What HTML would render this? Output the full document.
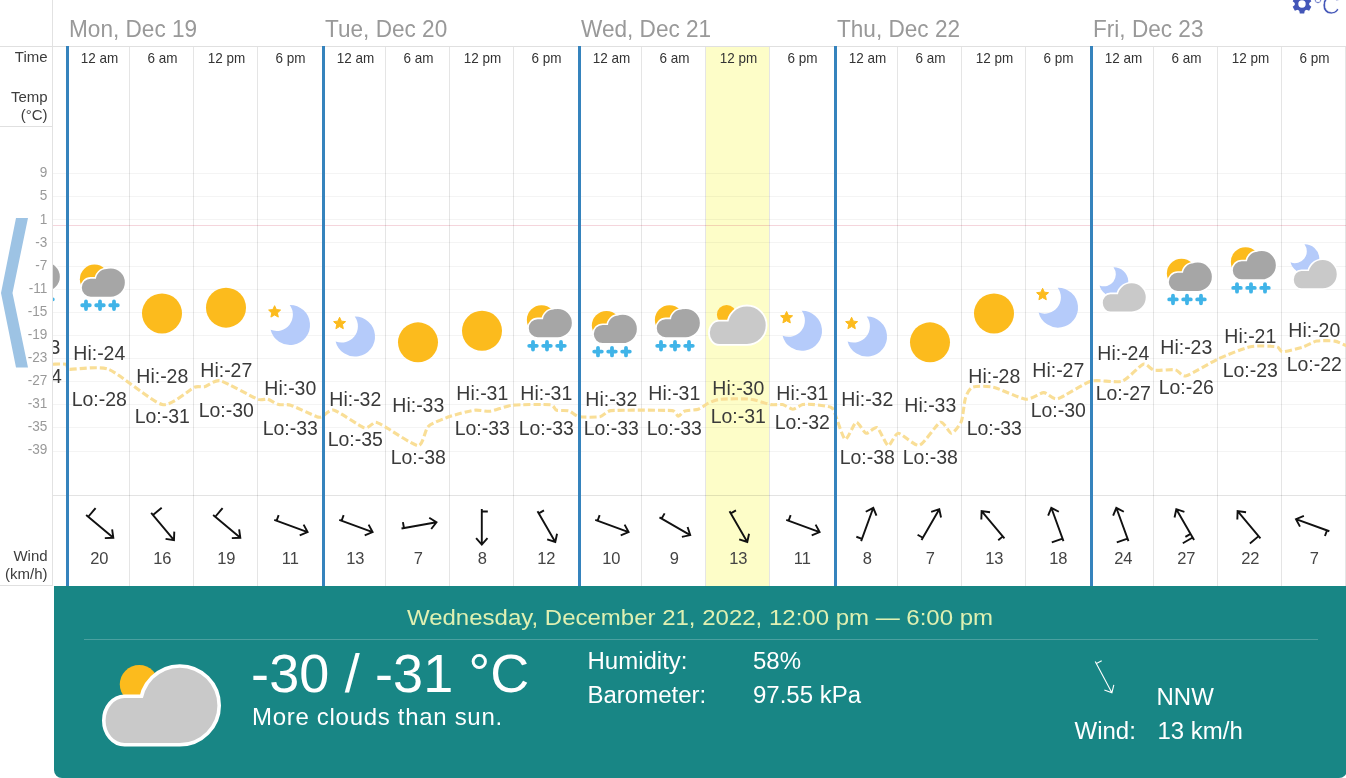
<!DOCTYPE html>
<html lang="en">
<head>
<meta charset="utf-8">
<title>Weather forecast</title>
<style>
html,body{margin:0;padding:0;background:#fff;}
body{width:1346px;height:778px;overflow:hidden;position:relative;font-family:"Liberation Sans",sans-serif;color:#333;}
.abs{position:absolute;}
.vline{position:absolute;left:52px;top:0;width:1px;height:586px;background:#e2e2e2;}
.hline{position:absolute;left:0;height:1px;background:#e0e0e0;}
.lbl{position:absolute;left:0;width:47.6px;text-align:right;font-size:15px;line-height:18px;height:18px;color:#3d3d3d;transform:scaleY(1.03);transform-origin:0 14px;white-space:nowrap;}
.yl{position:absolute;left:0;width:47.3px;text-align:right;font-size:13.6px;line-height:18px;height:18px;color:#999;transform:scaleY(1.05);transform-origin:0 13.5px;}
.day{position:absolute;top:16px;font-size:22.6px;line-height:28px;height:28px;color:#999;white-space:nowrap;transform:scaleY(1.035);transform-origin:0 22px;}
.chart{position:absolute;left:53px;top:46px;overflow:hidden;}
.chart text{font-family:"Liberation Sans",sans-serif;}
.hilo{font-size:19.5px;fill:#3a3a3a;}
.tm{font-size:13.5px;fill:#333;}
.ws{font-size:16.5px;fill:#444;}
.chev{position:absolute;left:0;top:210px;}
.panel{position:absolute;left:54px;top:586px;width:1293px;height:192px;background:#188685;border-radius:0 0 8px 8px;color:#fff;}
.ptitle{position:absolute;left:0;top:16px;width:1292px;height:30px;text-align:center;font-size:24px;line-height:30px;color:#dff0b2;white-space:nowrap;transform:scaleY(0.945);transform-origin:0 23.5px;}
.pdiv{position:absolute;left:30px;top:53px;width:1234px;height:1px;background:rgba(255,255,255,0.22);}
.bigicon{position:absolute;left:44px;top:55px;}
.ptemp{position:absolute;left:197px;top:55px;height:64px;font-size:54px;line-height:64px;letter-spacing:0.15px;white-space:nowrap;}
.pdesc{position:absolute;left:198px;top:116px;height:30px;font-size:24px;line-height:30px;letter-spacing:0.7px;white-space:nowrap;}
.pt{position:absolute;height:30px;font-size:24px;line-height:30px;white-space:nowrap;transform:scaleY(0.97);transform-origin:0 23.5px;}
.parrow{position:absolute;left:1019px;top:59.7px;}
.gear{position:absolute;left:1291.3px;top:-6.6px;}
.unit{position:absolute;left:1313px;top:-8.6px;font-size:25px;line-height:28px;color:#4356b8;-webkit-text-stroke:0.55px #fff;white-space:nowrap;}
.unit span{margin-left:-1.2px;}
</style>
</head>
<body>
<div class="vline"></div>
<div class="hline" style="top:46px;width:1346px"></div>
<div class="hline" style="top:126px;width:52px"></div>
<div class="hline" style="top:585px;width:52px"></div>

<div class="lbl" style="top:48px">Time</div>
<div class="lbl" style="top:88px">Temp</div>
<div class="lbl" style="top:106px">(°C)</div>
<div class="lbl" style="top:547px">Wind</div>
<div class="lbl" style="top:565px">(km/h)</div>
<div class="yl" style="top:164.4px">9</div>
<div class="yl" style="top:187.47px">5</div>
<div class="yl" style="top:210.54px">1</div>
<div class="yl" style="top:233.61px">-3</div>
<div class="yl" style="top:256.68px">-7</div>
<div class="yl" style="top:279.75px">-11</div>
<div class="yl" style="top:302.82px">-15</div>
<div class="yl" style="top:325.89px">-19</div>
<div class="yl" style="top:348.96px">-23</div>
<div class="yl" style="top:372.03px">-27</div>
<div class="yl" style="top:395.1px">-31</div>
<div class="yl" style="top:418.17px">-35</div>
<div class="yl" style="top:441.24px">-39</div>
<div class="day" style="left:69px">Mon, Dec 19</div>
<div class="day" style="left:325px">Tue, Dec 20</div>
<div class="day" style="left:581px">Wed, Dec 21</div>
<div class="day" style="left:837px">Thu, Dec 22</div>
<div class="day" style="left:1093px">Fri, Dec 23</div>

<svg class="chart" width="1293" height="540" viewBox="53 46 1293 540">
<rect x="706" y="47" width="63" height="539" fill="#fdfdc8"/>
<path d="M53 173.5H1346M53 196.5H1346M53 219.5H1346M53 242.5H1346M53 266.5H1346M53 289.5H1346M53 312.5H1346M53 335.5H1346M53 358.5H1346M53 381.5H1346M53 404.5H1346M53 427.5H1346M53 451.5H1346" stroke="#000" stroke-opacity="0.045" stroke-width="1" fill="none"/>
<path d="M53 225.5H1346" stroke="#d04060" stroke-opacity="0.22" stroke-width="1"/>
<path d="M53 495.5H1346" stroke="#000" stroke-opacity="0.11" stroke-width="1"/>
<path d="M129.5 47V586M193.5 47V586M257.5 47V586M385.5 47V586M449.5 47V586M513.5 47V586M641.5 47V586M705.5 47V586M769.5 47V586M897.5 47V586M961.5 47V586M1025.5 47V586M1153.5 47V586M1217.5 47V586M1281.5 47V586M1345.5 47V586" stroke="#000" stroke-opacity="0.1" stroke-width="1" fill="none"/>
<path d="M53 364.2C54.39 364.2 64.29 363.66 66 364.2C67.71 364.74 66.65 369.02 69 369.3C73.53 369.84 98.55 365.53 108.5 369.3C118.45 373.07 153.14 402.69 162.3 404.6C171.46 406.51 189.9 389.1 194.4 387.2C198.13 385.63 201.72 387.48 204.5 386.8C207.28 386.12 214.84 379.48 220.5 380.8C226.16 382.12 252.57 397.24 257.6 399.2C261.36 400.67 265.45 398.62 267.7 399.2C269.95 399.78 276.25 403.96 278.7 404.6C281.15 405.24 286.64 403.91 290.7 405.2C294.76 406.49 313.46 415.47 316.8 416.7C318.75 417.42 320.15 417.39 322 416.7C323.85 416.01 329.6 409.03 334.1 410.2C338.6 411.37 359.82 426.41 364.2 427.7C368.58 428.99 372.96 422.39 375.2 422.3C377.44 422.21 381.33 424.8 385.2 426.9C389.8 429.4 413.69 445.76 418.3 445.7C422.91 445.64 424.98 429.44 428.4 426.3C431.82 423.16 445.48 418.02 450.4 416.3C455.32 414.58 470.22 410.74 474.5 410.2C478.78 409.66 486.44 411.73 490.5 411.2C494.56 410.67 506.18 405.88 512.6 405.2C519.02 404.52 546 404.27 550.7 404.8C553.91 405.16 554.77 409.56 556.7 410.2C558.63 410.84 566.42 410.11 568.8 410.8C571.18 411.49 575.67 416.07 579 416.7C582.33 417.33 596.58 417.35 600 416.7C603.42 416.05 606.05 411.03 611.1 410.6C618.81 409.95 665.13 409.99 672.3 410.6C675.6 410.88 677.02 416.24 678.3 416.3C679.58 416.36 682.16 411.96 684.3 411.2C686.44 410.44 695.83 410.05 698.4 409.2C700.97 408.35 706.04 404.27 708.4 403.2C710.76 402.13 716.01 399.63 720.5 399.2C724.99 398.77 745.16 398.62 750.5 399.2C755.84 399.78 767.18 404.02 770.6 404.6C774.02 405.18 780.24 404.11 782.6 404.6C784.96 405.09 790.56 409.2 792.7 409.2C794.84 409.2 800.35 405.09 802.7 404.6C805.05 404.11 811.7 404.32 814.7 404.6C817.7 404.88 828.74 406.52 830.8 407.2C832.69 407.83 833.19 409.18 834 411C835.53 414.42 842.74 438.09 845.1 439.3C847.46 440.51 853.86 422.94 856.1 422.3C858.34 421.66 863.85 432.72 866.1 433.3C868.35 433.88 874.84 426.38 877.2 427.7C879.56 429.02 885.96 445.1 888.2 445.7C890.44 446.3 894.88 433.34 898.2 433.3C901.52 433.26 914.81 446.47 919.3 445.3C923.79 444.13 936.88 423.58 940.3 422.3C943.72 421.02 949.15 433.41 951.4 433.3C953.65 433.19 959.91 425.04 961.4 421.3C962.89 417.56 964.23 401.84 965.4 398.2C966.57 394.56 969.4 388.37 972.4 387.2C975.4 386.03 987.83 385.92 993.5 387.2C999.17 388.48 1020.25 398.62 1025.6 399.2C1030.95 399.78 1040.28 392.64 1043.7 392.6C1047.12 392.56 1052.65 400.02 1057.7 398.8C1062.75 397.58 1084.13 383.08 1091 381.2C1097.87 379.32 1116.53 383.01 1122.1 381.2C1127.67 379.39 1139.78 365.37 1143.2 364.2C1146.62 363.03 1150.78 369.6 1154.2 370.2C1157.62 370.8 1171.88 369.2 1175.3 369.8C1178.72 370.4 1181.7 376.97 1186.3 375.8C1190.9 374.63 1211.55 361.9 1218.4 358.8C1225.25 355.7 1244.29 347.99 1250.5 346.7C1256.71 345.41 1273.18 346.16 1276.6 346.7C1279.71 347.19 1279.82 351.76 1282.6 351.8C1285.38 351.84 1299.06 348.24 1302.7 347.1C1306.34 345.96 1313.28 341.74 1316.7 341.1C1320.12 340.46 1331.46 340.52 1334.8 341.1C1338.14 341.68 1346.59 345.92 1348 346.5" fill="none" stroke="#f9de96" stroke-width="3.1" stroke-dasharray="7 3" stroke-linejoin="round"/>
<g transform="translate(34 284.47)"><circle cx="-4.5" cy="-11" r="14.65" fill="#fcbb1d"/><path d="M-2.45 -7.7a14.15 14.15 0 1 1 28.3 0a14.15 14.15 0 1 1 -28.3 0ZM-3.1 -10.2a11 11 0 1 1 22 0a11 11 0 1 1 -22 0ZM-8.3 -11.6H11.7V6.45H-8.3A8.9 9.03 0 0 1 -17.2 -2.58A8.9 9.03 0 0 1 -8.3 -11.6Z" fill="#a6a6a6" stroke="#fff" stroke-width="3.2" stroke-linejoin="round" paint-order="stroke"/><path d="M-16.8 15h7.6M-13 11.2v7.6" stroke="#40b4e8" stroke-width="3.8" stroke-linecap="round" fill="none"/><path d="M-2.8 15h7.6M1 11.2v7.6" stroke="#40b4e8" stroke-width="3.8" stroke-linecap="round" fill="none"/><path d="M11.2 15h7.6M15 11.2v7.6" stroke="#40b4e8" stroke-width="3.8" stroke-linecap="round" fill="none"/></g>
<g transform="translate(99 290.26)"><circle cx="-4.5" cy="-11" r="14.65" fill="#fcbb1d"/><path d="M-2.45 -7.7a14.15 14.15 0 1 1 28.3 0a14.15 14.15 0 1 1 -28.3 0ZM-3.1 -10.2a11 11 0 1 1 22 0a11 11 0 1 1 -22 0ZM-8.3 -11.6H11.7V6.45H-8.3A8.9 9.03 0 0 1 -17.2 -2.58A8.9 9.03 0 0 1 -8.3 -11.6Z" fill="#a6a6a6" stroke="#fff" stroke-width="3.2" stroke-linejoin="round" paint-order="stroke"/><path d="M-16.8 15h7.6M-13 11.2v7.6" stroke="#40b4e8" stroke-width="3.8" stroke-linecap="round" fill="none"/><path d="M-2.8 15h7.6M1 11.2v7.6" stroke="#40b4e8" stroke-width="3.8" stroke-linecap="round" fill="none"/><path d="M11.2 15h7.6M15 11.2v7.6" stroke="#40b4e8" stroke-width="3.8" stroke-linecap="round" fill="none"/></g>
<g transform="translate(162 313.42)"><circle r="20" fill="#fcbb1d"/></g>
<g transform="translate(226 307.63)"><circle r="20" fill="#fcbb1d"/></g>
<g transform="translate(290 325)"><path d="M-0.3 -20A20 20 0 1 1 -19.4 4.85A16.3 16.3 0 0 0 -0.3 -20Z" fill="#b5cbfa"/><polygon points="-15.4,-19.3 -13.64,-15.43 -9.41,-14.95 -12.55,-12.07 -11.7,-7.9 -15.4,-10 -19.1,-7.9 -18.25,-12.07 -21.39,-14.95 -17.16,-15.43" fill="#fcbb1d" stroke="#fcbb1d" stroke-width="1" stroke-linejoin="round"/></g>
<g transform="translate(355 336.58)"><path d="M-0.3 -20A20 20 0 1 1 -19.4 4.85A16.3 16.3 0 0 0 -0.3 -20Z" fill="#b5cbfa"/><polygon points="-15.4,-19.3 -13.64,-15.43 -9.41,-14.95 -12.55,-12.07 -11.7,-7.9 -15.4,-10 -19.1,-7.9 -18.25,-12.07 -21.39,-14.95 -17.16,-15.43" fill="#fcbb1d" stroke="#fcbb1d" stroke-width="1" stroke-linejoin="round"/></g>
<g transform="translate(418 342.37)"><circle r="20" fill="#fcbb1d"/></g>
<g transform="translate(482 330.79)"><circle r="20" fill="#fcbb1d"/></g>
<g transform="translate(546 330.79)"><circle cx="-4.5" cy="-11" r="14.65" fill="#fcbb1d"/><path d="M-2.45 -7.7a14.15 14.15 0 1 1 28.3 0a14.15 14.15 0 1 1 -28.3 0ZM-3.1 -10.2a11 11 0 1 1 22 0a11 11 0 1 1 -22 0ZM-8.3 -11.6H11.7V6.45H-8.3A8.9 9.03 0 0 1 -17.2 -2.58A8.9 9.03 0 0 1 -8.3 -11.6Z" fill="#a6a6a6" stroke="#fff" stroke-width="3.2" stroke-linejoin="round" paint-order="stroke"/><path d="M-16.8 15h7.6M-13 11.2v7.6" stroke="#40b4e8" stroke-width="3.8" stroke-linecap="round" fill="none"/><path d="M-2.8 15h7.6M1 11.2v7.6" stroke="#40b4e8" stroke-width="3.8" stroke-linecap="round" fill="none"/><path d="M11.2 15h7.6M15 11.2v7.6" stroke="#40b4e8" stroke-width="3.8" stroke-linecap="round" fill="none"/></g>
<g transform="translate(611 336.58)"><circle cx="-4.5" cy="-11" r="14.65" fill="#fcbb1d"/><path d="M-2.45 -7.7a14.15 14.15 0 1 1 28.3 0a14.15 14.15 0 1 1 -28.3 0ZM-3.1 -10.2a11 11 0 1 1 22 0a11 11 0 1 1 -22 0ZM-8.3 -11.6H11.7V6.45H-8.3A8.9 9.03 0 0 1 -17.2 -2.58A8.9 9.03 0 0 1 -8.3 -11.6Z" fill="#a6a6a6" stroke="#fff" stroke-width="3.2" stroke-linejoin="round" paint-order="stroke"/><path d="M-16.8 15h7.6M-13 11.2v7.6" stroke="#40b4e8" stroke-width="3.8" stroke-linecap="round" fill="none"/><path d="M-2.8 15h7.6M1 11.2v7.6" stroke="#40b4e8" stroke-width="3.8" stroke-linecap="round" fill="none"/><path d="M11.2 15h7.6M15 11.2v7.6" stroke="#40b4e8" stroke-width="3.8" stroke-linecap="round" fill="none"/></g>
<g transform="translate(674 330.79)"><circle cx="-4.5" cy="-11" r="14.65" fill="#fcbb1d"/><path d="M-2.45 -7.7a14.15 14.15 0 1 1 28.3 0a14.15 14.15 0 1 1 -28.3 0ZM-3.1 -10.2a11 11 0 1 1 22 0a11 11 0 1 1 -22 0ZM-8.3 -11.6H11.7V6.45H-8.3A8.9 9.03 0 0 1 -17.2 -2.58A8.9 9.03 0 0 1 -8.3 -11.6Z" fill="#a6a6a6" stroke="#fff" stroke-width="3.2" stroke-linejoin="round" paint-order="stroke"/><path d="M-16.8 15h7.6M-13 11.2v7.6" stroke="#40b4e8" stroke-width="3.8" stroke-linecap="round" fill="none"/><path d="M-2.8 15h7.6M1 11.2v7.6" stroke="#40b4e8" stroke-width="3.8" stroke-linecap="round" fill="none"/><path d="M11.2 15h7.6M15 11.2v7.6" stroke="#40b4e8" stroke-width="3.8" stroke-linecap="round" fill="none"/></g>
<g transform="translate(738 325)"><circle cx="-11.4" cy="-10.3" r="9.7" fill="#fcbb1d"/><path d="M-9.9 0.2a18.8 18.8 0 1 1 37.6 0a18.8 18.8 0 1 1 -37.6 0ZM-18.7 -3.45H8.9V19H-18.7A9.5 11.2 0 0 1 -28.2 7.8V7.75A9.5 11.2 0 0 1 -18.7 -3.45Z" fill="#c9c9c9" stroke="#fff" stroke-width="3.6" stroke-linejoin="round" paint-order="stroke"/></g>
<g transform="translate(802 330.79)"><path d="M-0.3 -20A20 20 0 1 1 -19.4 4.85A16.3 16.3 0 0 0 -0.3 -20Z" fill="#b5cbfa"/><polygon points="-15.4,-19.3 -13.64,-15.43 -9.41,-14.95 -12.55,-12.07 -11.7,-7.9 -15.4,-10 -19.1,-7.9 -18.25,-12.07 -21.39,-14.95 -17.16,-15.43" fill="#fcbb1d" stroke="#fcbb1d" stroke-width="1" stroke-linejoin="round"/></g>
<g transform="translate(867 336.58)"><path d="M-0.3 -20A20 20 0 1 1 -19.4 4.85A16.3 16.3 0 0 0 -0.3 -20Z" fill="#b5cbfa"/><polygon points="-15.4,-19.3 -13.64,-15.43 -9.41,-14.95 -12.55,-12.07 -11.7,-7.9 -15.4,-10 -19.1,-7.9 -18.25,-12.07 -21.39,-14.95 -17.16,-15.43" fill="#fcbb1d" stroke="#fcbb1d" stroke-width="1" stroke-linejoin="round"/></g>
<g transform="translate(930 342.37)"><circle r="20" fill="#fcbb1d"/></g>
<g transform="translate(994 313.42)"><circle r="20" fill="#fcbb1d"/></g>
<g transform="translate(1058 307.63)"><path d="M-0.3 -20A20 20 0 1 1 -19.4 4.85A16.3 16.3 0 0 0 -0.3 -20Z" fill="#b5cbfa"/><polygon points="-15.4,-19.3 -13.64,-15.43 -9.41,-14.95 -12.55,-12.07 -11.7,-7.9 -15.4,-10 -19.1,-7.9 -18.25,-12.07 -21.39,-14.95 -17.16,-15.43" fill="#fcbb1d" stroke="#fcbb1d" stroke-width="1" stroke-linejoin="round"/></g>
<g transform="translate(1123 290.26)"><path d="M-9.52 -22.9A14.6 14.6 0 1 1 -23.46 -4.76A11.9 11.9 0 0 0 -9.52 -22.9Z" fill="#b5cbfa"/><path d="M-5.45 7.1a14.1 14.1 0 1 1 28.2 0a14.1 14.1 0 1 1 -28.2 0ZM-12.7 3.9H8.65V21.2H-12.7A7.5 8.65 0 0 1 -20.2 12.55A7.5 8.65 0 0 1 -12.7 3.9Z" fill="#c9c9c9" stroke="#fff" stroke-width="3.2" stroke-linejoin="round" paint-order="stroke"/></g>
<g transform="translate(1186 284.47)"><circle cx="-4.5" cy="-11" r="14.65" fill="#fcbb1d"/><path d="M-2.45 -7.7a14.15 14.15 0 1 1 28.3 0a14.15 14.15 0 1 1 -28.3 0ZM-3.1 -10.2a11 11 0 1 1 22 0a11 11 0 1 1 -22 0ZM-8.3 -11.6H11.7V6.45H-8.3A8.9 9.03 0 0 1 -17.2 -2.58A8.9 9.03 0 0 1 -8.3 -11.6Z" fill="#a6a6a6" stroke="#fff" stroke-width="3.2" stroke-linejoin="round" paint-order="stroke"/><path d="M-16.8 15h7.6M-13 11.2v7.6" stroke="#40b4e8" stroke-width="3.8" stroke-linecap="round" fill="none"/><path d="M-2.8 15h7.6M1 11.2v7.6" stroke="#40b4e8" stroke-width="3.8" stroke-linecap="round" fill="none"/><path d="M11.2 15h7.6M15 11.2v7.6" stroke="#40b4e8" stroke-width="3.8" stroke-linecap="round" fill="none"/></g>
<g transform="translate(1250 272.89)"><circle cx="-4.5" cy="-11" r="14.65" fill="#fcbb1d"/><path d="M-2.45 -7.7a14.15 14.15 0 1 1 28.3 0a14.15 14.15 0 1 1 -28.3 0ZM-3.1 -10.2a11 11 0 1 1 22 0a11 11 0 1 1 -22 0ZM-8.3 -11.6H11.7V6.45H-8.3A8.9 9.03 0 0 1 -17.2 -2.58A8.9 9.03 0 0 1 -8.3 -11.6Z" fill="#a6a6a6" stroke="#fff" stroke-width="3.2" stroke-linejoin="round" paint-order="stroke"/><path d="M-16.8 15h7.6M-13 11.2v7.6" stroke="#40b4e8" stroke-width="3.8" stroke-linecap="round" fill="none"/><path d="M-2.8 15h7.6M1 11.2v7.6" stroke="#40b4e8" stroke-width="3.8" stroke-linecap="round" fill="none"/><path d="M11.2 15h7.6M15 11.2v7.6" stroke="#40b4e8" stroke-width="3.8" stroke-linecap="round" fill="none"/></g>
<g transform="translate(1314 267.1)"><path d="M-9.52 -22.9A14.6 14.6 0 1 1 -23.46 -4.76A11.9 11.9 0 0 0 -9.52 -22.9Z" fill="#b5cbfa"/><path d="M-5.45 7.1a14.1 14.1 0 1 1 28.2 0a14.1 14.1 0 1 1 -28.2 0ZM-12.7 3.9H8.65V21.2H-12.7A7.5 8.65 0 0 1 -20.2 12.55A7.5 8.65 0 0 1 -12.7 3.9Z" fill="#c9c9c9" stroke="#fff" stroke-width="3.2" stroke-linejoin="round" paint-order="stroke"/></g>
<g class="hilo" text-anchor="middle"><text transform="translate(34.3 354.17) scale(1 1.075)">Hi:-23</text><text transform="translate(34.3 382.56) scale(1 1.075)">Lo:-24</text><text transform="translate(99.3 359.96) scale(1 1.075)">Hi:-24</text><text transform="translate(99.3 405.72) scale(1 1.075)">Lo:-28</text><text transform="translate(162.3 383.12) scale(1 1.075)">Hi:-28</text><text transform="translate(162.3 423.09) scale(1 1.075)">Lo:-31</text><text transform="translate(226.3 377.33) scale(1 1.075)">Hi:-27</text><text transform="translate(226.3 417.3) scale(1 1.075)">Lo:-30</text><text transform="translate(290.3 394.7) scale(1 1.075)">Hi:-30</text><text transform="translate(290.3 434.67) scale(1 1.075)">Lo:-33</text><text transform="translate(355.3 406.28) scale(1 1.075)">Hi:-32</text><text transform="translate(355.3 446.25) scale(1 1.075)">Lo:-35</text><text transform="translate(418.3 412.07) scale(1 1.075)">Hi:-33</text><text transform="translate(418.3 463.62) scale(1 1.075)">Lo:-38</text><text transform="translate(482.3 400.49) scale(1 1.075)">Hi:-31</text><text transform="translate(482.3 434.67) scale(1 1.075)">Lo:-33</text><text transform="translate(546.3 400.49) scale(1 1.075)">Hi:-31</text><text transform="translate(546.3 434.67) scale(1 1.075)">Lo:-33</text><text transform="translate(611.3 406.28) scale(1 1.075)">Hi:-32</text><text transform="translate(611.3 434.67) scale(1 1.075)">Lo:-33</text><text transform="translate(674.3 400.49) scale(1 1.075)">Hi:-31</text><text transform="translate(674.3 434.67) scale(1 1.075)">Lo:-33</text><text transform="translate(738.3 394.7) scale(1 1.075)">Hi:-30</text><text transform="translate(738.3 423.09) scale(1 1.075)">Lo:-31</text><text transform="translate(802.3 400.49) scale(1 1.075)">Hi:-31</text><text transform="translate(802.3 428.88) scale(1 1.075)">Lo:-32</text><text transform="translate(867.3 406.28) scale(1 1.075)">Hi:-32</text><text transform="translate(867.3 463.62) scale(1 1.075)">Lo:-38</text><text transform="translate(930.3 412.07) scale(1 1.075)">Hi:-33</text><text transform="translate(930.3 463.62) scale(1 1.075)">Lo:-38</text><text transform="translate(994.3 383.12) scale(1 1.075)">Hi:-28</text><text transform="translate(994.3 434.67) scale(1 1.075)">Lo:-33</text><text transform="translate(1058.3 377.33) scale(1 1.075)">Hi:-27</text><text transform="translate(1058.3 417.3) scale(1 1.075)">Lo:-30</text><text transform="translate(1123.3 359.96) scale(1 1.075)">Hi:-24</text><text transform="translate(1123.3 399.93) scale(1 1.075)">Lo:-27</text><text transform="translate(1186.3 354.17) scale(1 1.075)">Hi:-23</text><text transform="translate(1186.3 394.14) scale(1 1.075)">Lo:-26</text><text transform="translate(1250.3 342.59) scale(1 1.075)">Hi:-21</text><text transform="translate(1250.3 376.77) scale(1 1.075)">Lo:-23</text><text transform="translate(1314.3 336.8) scale(1 1.075)">Hi:-20</text><text transform="translate(1314.3 370.98) scale(1 1.075)">Lo:-22</text></g>
<rect x="66" y="46" width="3" height="540" fill="#3583bd"/>
<rect x="322" y="46" width="3" height="540" fill="#3583bd"/>
<rect x="578" y="46" width="3" height="540" fill="#3583bd"/>
<rect x="834" y="46" width="3" height="540" fill="#3583bd"/>
<rect x="1090" y="46" width="3" height="540" fill="#3583bd"/>
<g class="tm" text-anchor="middle"><text transform="translate(99.5 63.1) scale(1 1.09)">12 am</text><text transform="translate(162.5 63.1) scale(1 1.09)">6 am</text><text transform="translate(226.5 63.1) scale(1 1.09)">12 pm</text><text transform="translate(290.5 63.1) scale(1 1.09)">6 pm</text><text transform="translate(355.5 63.1) scale(1 1.09)">12 am</text><text transform="translate(418.5 63.1) scale(1 1.09)">6 am</text><text transform="translate(482.5 63.1) scale(1 1.09)">12 pm</text><text transform="translate(546.5 63.1) scale(1 1.09)">6 pm</text><text transform="translate(611.5 63.1) scale(1 1.09)">12 am</text><text transform="translate(674.5 63.1) scale(1 1.09)">6 am</text><text transform="translate(738.5 63.1) scale(1 1.09)">12 pm</text><text transform="translate(802.5 63.1) scale(1 1.09)">6 pm</text><text transform="translate(867.5 63.1) scale(1 1.09)">12 am</text><text transform="translate(930.5 63.1) scale(1 1.09)">6 am</text><text transform="translate(994.5 63.1) scale(1 1.09)">12 pm</text><text transform="translate(1058.5 63.1) scale(1 1.09)">6 pm</text><text transform="translate(1123.5 63.1) scale(1 1.09)">12 am</text><text transform="translate(1186.5 63.1) scale(1 1.09)">6 am</text><text transform="translate(1250.5 63.1) scale(1 1.09)">12 pm</text><text transform="translate(1314.5 63.1) scale(1 1.09)">6 pm</text></g>
<path transform="translate(98.8 525.6) rotate(-50)" d="M0 -16.55V18.95M-5.69 12.63L0 18.95L5.69 12.63M0 -13.75h11.4" fill="none" stroke="#111" stroke-width="1.9"/>
<path transform="translate(161.8 525.6) rotate(-40)" d="M0 -16.55V18.95M-5.69 12.63L0 18.95L5.69 12.63M0 -13.75h11.4" fill="none" stroke="#111" stroke-width="1.9"/>
<path transform="translate(225.8 525.6) rotate(-50)" d="M0 -16.55V18.95M-5.69 12.63L0 18.95L5.69 12.63M0 -13.75h11.4" fill="none" stroke="#111" stroke-width="1.9"/>
<path transform="translate(289.8 525.6) rotate(-70)" d="M0 -16.55V18.95M-5.69 12.63L0 18.95L5.69 12.63M0 -14.05h6" fill="none" stroke="#111" stroke-width="1.9"/>
<path transform="translate(354.8 525.6) rotate(-70)" d="M0 -16.55V18.95M-5.69 12.63L0 18.95L5.69 12.63M0 -14.05h6" fill="none" stroke="#111" stroke-width="1.9"/>
<path transform="translate(417.8 525.6) rotate(-100)" d="M0 -16.55V18.95M-5.69 12.63L0 18.95L5.69 12.63M0 -14.05h6" fill="none" stroke="#111" stroke-width="1.9"/>
<path transform="translate(481.8 525.6) rotate(0)" d="M0 -16.55V18.95M-5.69 12.63L0 18.95L5.69 12.63M0 -14.05h6" fill="none" stroke="#111" stroke-width="1.9"/>
<path transform="translate(545.8 525.6) rotate(-30)" d="M0 -16.55V18.95M-5.69 12.63L0 18.95L5.69 12.63M0 -14.05h6" fill="none" stroke="#111" stroke-width="1.9"/>
<path transform="translate(610.8 525.6) rotate(-70)" d="M0 -16.55V18.95M-5.69 12.63L0 18.95L5.69 12.63M0 -14.05h6" fill="none" stroke="#111" stroke-width="1.9"/>
<path transform="translate(673.8 525.6) rotate(-60)" d="M0 -16.55V18.95M-5.69 12.63L0 18.95L5.69 12.63M0 -14.05h6" fill="none" stroke="#111" stroke-width="1.9"/>
<path transform="translate(737.8 525.6) rotate(-30)" d="M0 -16.55V18.95M-5.69 12.63L0 18.95L5.69 12.63M0 -14.05h6" fill="none" stroke="#111" stroke-width="1.9"/>
<path transform="translate(801.8 525.6) rotate(-70)" d="M0 -16.55V18.95M-5.69 12.63L0 18.95L5.69 12.63M0 -14.05h6" fill="none" stroke="#111" stroke-width="1.9"/>
<path transform="translate(866.8 525.6) rotate(-160)" d="M0 -16.55V18.95M-5.69 12.63L0 18.95L5.69 12.63M0 -14.05h6" fill="none" stroke="#111" stroke-width="1.9"/>
<path transform="translate(929.8 525.6) rotate(-150)" d="M0 -16.55V18.95M-5.69 12.63L0 18.95L5.69 12.63M0 -14.05h6" fill="none" stroke="#111" stroke-width="1.9"/>
<path transform="translate(993.8 525.6) rotate(-220)" d="M0 -16.55V18.95M-5.69 12.63L0 18.95L5.69 12.63M0 -14.05h6" fill="none" stroke="#111" stroke-width="1.9"/>
<path transform="translate(1057.8 525.6) rotate(-200)" d="M0 -16.55V18.95M-5.69 12.63L0 18.95L5.69 12.63M0 -13.75h11.4" fill="none" stroke="#111" stroke-width="1.9"/>
<path transform="translate(1122.8 525.6) rotate(-200)" d="M0 -16.55V18.95M-5.69 12.63L0 18.95L5.69 12.63M0 -13.75h11.4" fill="none" stroke="#111" stroke-width="1.9"/>
<path transform="translate(1185.8 525.6) rotate(-210)" d="M0 -16.55V18.95M-5.69 12.63L0 18.95L5.69 12.63M0 -13.75h11.4M0 -9.55h6" fill="none" stroke="#111" stroke-width="1.9"/>
<path transform="translate(1249.8 525.6) rotate(-220)" d="M0 -16.55V18.95M-5.69 12.63L0 18.95L5.69 12.63M0 -13.75h11.4" fill="none" stroke="#111" stroke-width="1.9"/>
<path transform="translate(1313.8 525.6) rotate(-250)" d="M0 -16.55V18.95M-5.69 12.63L0 18.95L5.69 12.63M0 -14.05h6" fill="none" stroke="#111" stroke-width="1.9"/>
<g class="ws" text-anchor="middle"><text transform="translate(99.3 563.8) scale(1 1.05)">20</text><text transform="translate(162.3 563.8) scale(1 1.05)">16</text><text transform="translate(226.3 563.8) scale(1 1.05)">19</text><text transform="translate(290.3 563.8) scale(1 1.05)">11</text><text transform="translate(355.3 563.8) scale(1 1.05)">13</text><text transform="translate(418.3 563.8) scale(1 1.05)">7</text><text transform="translate(482.3 563.8) scale(1 1.05)">8</text><text transform="translate(546.3 563.8) scale(1 1.05)">12</text><text transform="translate(611.3 563.8) scale(1 1.05)">10</text><text transform="translate(674.3 563.8) scale(1 1.05)">9</text><text transform="translate(738.3 563.8) scale(1 1.05)">13</text><text transform="translate(802.3 563.8) scale(1 1.05)">11</text><text transform="translate(867.3 563.8) scale(1 1.05)">8</text><text transform="translate(930.3 563.8) scale(1 1.05)">7</text><text transform="translate(994.3 563.8) scale(1 1.05)">13</text><text transform="translate(1058.3 563.8) scale(1 1.05)">18</text><text transform="translate(1123.3 563.8) scale(1 1.05)">24</text><text transform="translate(1186.3 563.8) scale(1 1.05)">27</text><text transform="translate(1250.3 563.8) scale(1 1.05)">22</text><text transform="translate(1314.3 563.8) scale(1 1.05)">7</text></g>
</svg>

<svg class="chev" width="40" height="170" viewBox="0 210 40 170"><polygon points="16,218 28,218 12.5,293 28,367.5 16,367.5 1,293" fill="#9dc3e4"/></svg>

<svg class="gear" width="22" height="22" viewBox="-11 -11 22 22"><g fill="#4356b8"><path d="M-2.9 -6L-2.2 -9.5H2.2L2.9 -6Z" transform="rotate(0)"/><path d="M-2.9 -6L-2.2 -9.5H2.2L2.9 -6Z" transform="rotate(60)"/><path d="M-2.9 -6L-2.2 -9.5H2.2L2.9 -6Z" transform="rotate(120)"/><path d="M-2.9 -6L-2.2 -9.5H2.2L2.9 -6Z" transform="rotate(180)"/><path d="M-2.9 -6L-2.2 -9.5H2.2L2.9 -6Z" transform="rotate(240)"/><path d="M-2.9 -6L-2.2 -9.5H2.2L2.9 -6Z" transform="rotate(300)"/><path fill-rule="evenodd" d="M0 -7.3A7.3 7.3 0 1 0 0 7.3A7.3 7.3 0 1 0 0 -7.3ZM0 -3.7A3.7 3.7 0 1 1 0 3.7A3.7 3.7 0 1 1 0 -3.7Z"/></g></svg>
<div class="unit">°<span>C</span></div>

<div class="panel">
  <div class="ptitle">Wednesday, December 21, 2022, 12:00 pm — 6:00 pm</div>
  <div class="pdiv"></div>
  <svg class="bigicon" width="128" height="128" viewBox="-32 -32 64 64"><circle cx="-11.4" cy="-10.3" r="9.7" fill="#fcbb1d"/><path d="M-9.9 0.2a18.8 18.8 0 1 1 37.6 0a18.8 18.8 0 1 1 -37.6 0ZM-18.7 -3.45H8.9V19H-18.7A9.5 11.2 0 0 1 -28.2 7.8V7.75A9.5 11.2 0 0 1 -18.7 -3.45Z" fill="#c9c9c9" stroke="#fff" stroke-width="3.6" stroke-linejoin="round" paint-order="stroke"/></svg>
  <div class="ptemp">-30 / -31 °C</div>
  <div class="pdesc">More clouds than sun.</div>
  <div class="pt" style="left:533.5px;top:60px">Humidity:</div>
  <div class="pt" style="left:699px;top:60px">58%</div>
  <div class="pt" style="left:533.5px;top:94px">Barometer:</div>
  <div class="pt" style="left:699px;top:94px">97.55 kPa</div>
  <svg class="parrow" width="60" height="60" viewBox="-30 -30 60 60"><path transform="translate(0 0) rotate(-28)" d="M0 -16.55V18.95M-5.35 13L0 18.95L5.35 13M0 -14.05h6" fill="none" stroke="#fff" stroke-width="1.1"/></svg>
  <div class="pt" style="left:1102.5px;top:96px">NNW</div>
  <div class="pt" style="left:1020.5px;top:130px">Wind:</div>
  <div class="pt" style="left:1103.5px;top:130px">13 km/h</div>
</div>
</body>
</html>
